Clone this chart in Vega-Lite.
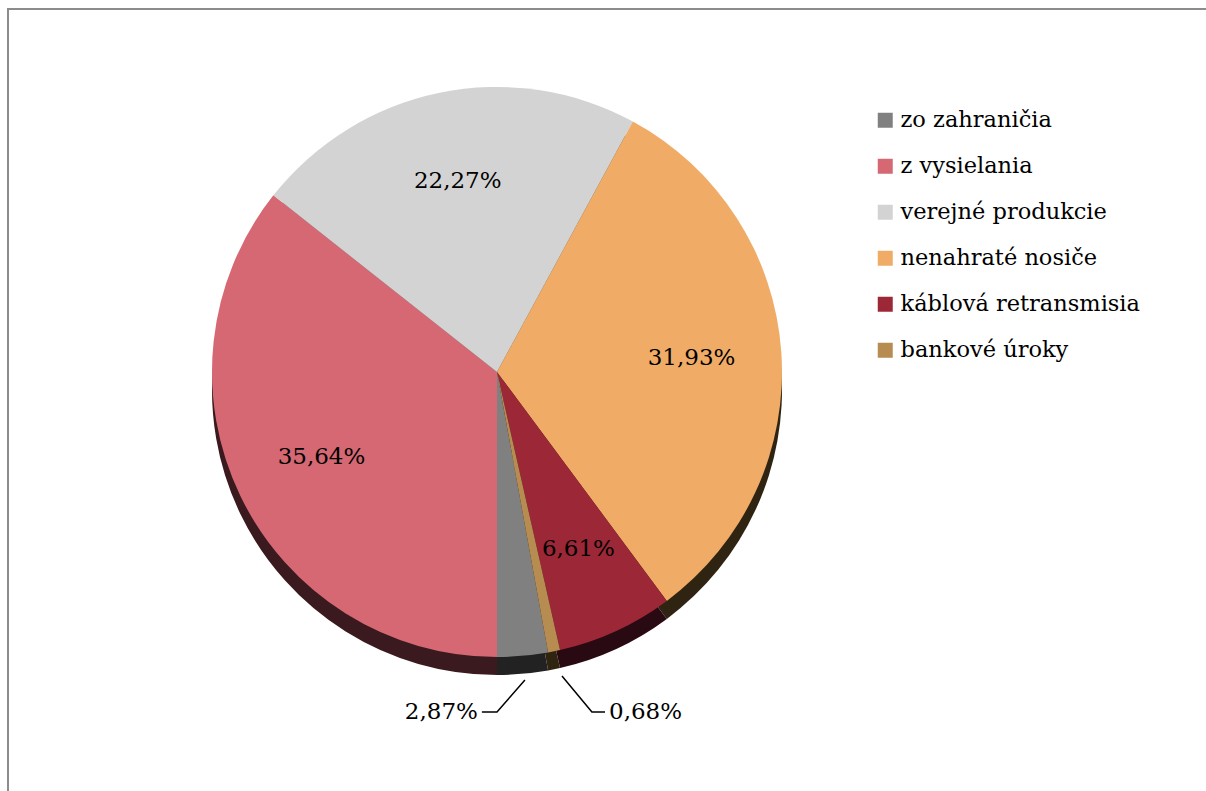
{
  "$schema": "https://vega.github.io/schema/vega-lite/v6.json",
  "autosize": "none",
  "width": 1202,
  "height": 786,
  "padding": {"left": 8, "top": 9, "right": 0, "bottom": 0},
  "background": "white",
  "config": {"view": {"stroke": "#8c8c8c", "strokeWidth": 2}, "font": "DejaVu Serif"},
  "datasets": {
    "podiel": [
      {"zdroj": "zo zahraničia", "podiel": 2.87, "poradie": 6, "popis": "2,87%"},
      {"zdroj": "z vysielania", "podiel": 35.64, "poradie": 1, "popis": "35,64%"},
      {"zdroj": "verejné produkcie", "podiel": 22.27, "poradie": 2, "popis": "22,27%"},
      {"zdroj": "nenahraté nosiče", "podiel": 31.93, "poradie": 3, "popis": "31,93%"},
      {"zdroj": "káblová retransmisia", "podiel": 6.61, "poradie": 4, "popis": "6,61%"},
      {"zdroj": "bankové úroky", "podiel": 0.68, "poradie": 5, "popis": "0,68%"}
    ],
    "vodiace": [
      {"id": "a", "k": 1, "x": 0.098, "y": -1.081},
      {"id": "a", "k": 2, "x": 0.0, "y": -1.193},
      {"id": "a", "k": 3, "x": -0.053, "y": -1.193},
      {"id": "b", "k": 1, "x": 0.228, "y": -1.067},
      {"id": "b", "k": 2, "x": 0.333, "y": -1.193},
      {"id": "b", "k": 3, "x": 0.379, "y": -1.193}
    ],
    "vonkajsie": [
      {"popis": "2,87%", "strana": "l", "x": -0.067, "y": -1.193},
      {"popis": "0,68%", "strana": "p", "x": 0.393, "y": -1.193}
    ]
  },
  "layer": [
    {
      "data": {"name": "podiel"},
      "mark": {"type": "arc", "outerRadius": 285, "yOffset": 18},
      "encoding": {
        "x": {"datum": 0, "type": "quantitative", "scale": {"domain": [-1.7158, 2.5018], "nice": false, "zero": false}, "axis": null},
        "y": {"datum": 0, "type": "quantitative", "scale": {"domain": [-1.4842, 1.2737], "nice": false, "zero": false}, "axis": null},
        "theta": {"field": "podiel", "type": "quantitative", "stack": true, "scale": {"range": [3.14159265, 9.42477796]}},
        "order": {"field": "poradie", "type": "quantitative"},
        "color": {
          "field": "zdroj", "type": "nominal",
          "scale": {
            "domain": ["zo zahraničia", "z vysielania", "verejné produkcie", "nenahraté nosiče", "káblová retransmisia", "bankové úroky"],
            "range": ["#222222", "#3a1a1f", "#5a5a5a", "#2f2311", "#2a0a12", "#2e2410"]
          },
          "legend": null
        }
      }
    },
    {
      "data": {"name": "podiel"},
      "mark": {"type": "arc", "outerRadius": 285},
      "encoding": {
        "x": {"datum": 0, "type": "quantitative", "scale": {"domain": [-1.7158, 2.5018], "nice": false, "zero": false}, "axis": null},
        "y": {"datum": 0, "type": "quantitative", "scale": {"domain": [-1.4842, 1.2737], "nice": false, "zero": false}, "axis": null},
        "theta": {"field": "podiel", "type": "quantitative", "stack": true, "scale": {"range": [3.14159265, 9.42477796]}},
        "order": {"field": "poradie", "type": "quantitative"},
        "color": {
          "field": "zdroj", "type": "nominal",
          "scale": {
            "domain": ["zo zahraničia", "z vysielania", "verejné produkcie", "nenahraté nosiče", "káblová retransmisia", "bankové úroky"],
            "range": ["#808080", "#d56872", "#d3d3d3", "#f0ac66", "#9c2736", "#b68c50"]
          },
          "legend": {
            "orient": "none", "legendX": 866, "legendY": 100, "title": null,
            "symbolType": "square", "symbolSize": 225, "symbolStrokeWidth": 0,
            "labelFontSize": 22.5, "labelFont": "DejaVu Serif", "labelColor": "black",
            "rowPadding": 23, "labelOffset": 4, "padding": 0, "labelLimit": 400
          }
        }
      }
    },
    {
      "data": {"name": "podiel"},
      "mark": {"type": "text", "radius": 195, "fontSize": 23, "font": "DejaVu Serif", "color": "black"},
      "encoding": {
        "x": {"datum": 0, "type": "quantitative", "scale": {"domain": [-1.7158, 2.5018], "nice": false, "zero": false}, "axis": null},
        "y": {"datum": 0, "type": "quantitative", "scale": {"domain": [-1.4842, 1.2737], "nice": false, "zero": false}, "axis": null},
        "theta": {"field": "podiel", "type": "quantitative", "stack": true, "scale": {"range": [3.14159265, 9.42477796]}},
        "order": {"field": "poradie", "type": "quantitative"},
        "text": {"field": "popis"},
        "opacity": {"condition": {"test": "datum.podiel < 5", "value": 0}, "value": 1}
      }
    },
    {
      "data": {"name": "vodiace"},
      "mark": {"type": "line", "color": "black", "strokeWidth": 1.5},
      "encoding": {
        "x": {"field": "x", "type": "quantitative", "scale": {"domain": [-1.7158, 2.5018], "nice": false, "zero": false}, "axis": null},
        "y": {"field": "y", "type": "quantitative", "scale": {"domain": [-1.4842, 1.2737], "nice": false, "zero": false}, "axis": null},
        "detail": {"field": "id"},
        "order": {"field": "k", "type": "quantitative"}
      }
    },
    {
      "data": {"name": "vonkajsie"},
      "transform": [{"filter": "datum.strana == 'l'"}],
      "mark": {"type": "text", "align": "right", "baseline": "middle", "fontSize": 23, "font": "DejaVu Serif", "color": "black"},
      "encoding": {
        "x": {"field": "x", "type": "quantitative", "scale": {"domain": [-1.7158, 2.5018], "nice": false, "zero": false}, "axis": null},
        "y": {"field": "y", "type": "quantitative", "scale": {"domain": [-1.4842, 1.2737], "nice": false, "zero": false}, "axis": null},
        "text": {"field": "popis"}
      }
    },
    {
      "data": {"name": "vonkajsie"},
      "transform": [{"filter": "datum.strana == 'p'"}],
      "mark": {"type": "text", "align": "left", "baseline": "middle", "fontSize": 23, "font": "DejaVu Serif", "color": "black"},
      "encoding": {
        "x": {"field": "x", "type": "quantitative", "scale": {"domain": [-1.7158, 2.5018], "nice": false, "zero": false}, "axis": null},
        "y": {"field": "y", "type": "quantitative", "scale": {"domain": [-1.4842, 1.2737], "nice": false, "zero": false}, "axis": null},
        "text": {"field": "popis"}
      }
    }
  ],
  "resolve": {"scale": {"color": "independent"}}
}
